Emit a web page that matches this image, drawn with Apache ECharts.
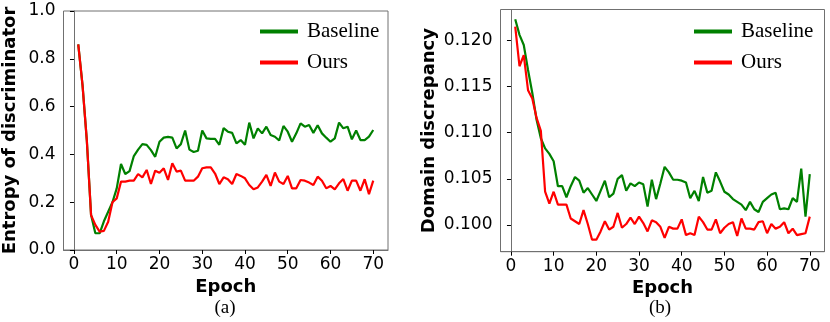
<!DOCTYPE html>
<html>
<head>
<meta charset="utf-8">
<script src="https://cdn.jsdelivr.net/npm/echarts@6/dist/echarts.min.js"></script>
<style>
  html, body { margin: 0; padding: 0; background: #fff; }
  #chart { width: 830px; height: 322px; }
</style>
</head>
<body>
<div id="chart"></div>
<script>
// epochs shared by both panels
const epochs = [1, 2, 3, 4, 5, 6, 7, 8, 9, 10, 11, 12, 13, 14, 15, 16, 17, 18, 19, 20,
  21, 22, 23, 24, 25, 26, 27, 28, 29, 30, 31, 32, 33, 34, 35, 36, 37, 38, 39, 40,
  41, 42, 43, 44, 45, 46, 47, 48, 49, 50, 51, 52, 53, 54, 55, 56, 57, 58, 59, 60,
  61, 62, 63, 64, 65, 66, 67, 68, 69, 70];
const epochTicks = [0, 10, 20, 30, 40, 50, 60, 70];

// (a) entropy of discriminator
const entropyBaseline = [0.86, 0.69, 0.46, 0.146, 0.07, 0.07, 0.12, 0.16, 0.20, 0.258,
  0.36, 0.318, 0.33, 0.393, 0.42, 0.443, 0.44, 0.418, 0.39, 0.453,
  0.47, 0.473, 0.47, 0.425, 0.443, 0.50, 0.42, 0.41, 0.415, 0.50,
  0.467, 0.465, 0.465, 0.44, 0.51, 0.495, 0.49, 0.446, 0.46, 0.44,
  0.533, 0.467, 0.509, 0.488, 0.516, 0.481, 0.474, 0.458, 0.519, 0.495,
  0.453, 0.488, 0.53, 0.516, 0.523, 0.49, 0.522, 0.488, 0.47, 0.453,
  0.467, 0.533, 0.509, 0.516, 0.463, 0.50, 0.46, 0.46, 0.474, 0.502];
const entropyOurs = [0.86, 0.69, 0.46, 0.146, 0.105, 0.077, 0.08, 0.118, 0.20, 0.216,
  0.286, 0.286, 0.29, 0.29, 0.318, 0.304, 0.335, 0.276, 0.332, 0.323,
  0.342, 0.293, 0.363, 0.328, 0.332, 0.29, 0.29, 0.29, 0.307, 0.342,
  0.346, 0.346, 0.32, 0.276, 0.304, 0.296, 0.276, 0.318, 0.31, 0.30,
  0.272, 0.254, 0.262, 0.286, 0.314, 0.268, 0.324, 0.286, 0.276, 0.31,
  0.258, 0.258, 0.293, 0.29, 0.282, 0.272, 0.307, 0.29, 0.258, 0.268,
  0.254, 0.279, 0.297, 0.248, 0.29, 0.29, 0.248, 0.296, 0.234, 0.29];
const entropyTicks = [0, 0.2, 0.4, 0.6, 0.8, 1.0];

// (b) domain discrepancy
const discBaseline = [0.1223, 0.1206, 0.1195, 0.1168, 0.1143, 0.1114, 0.1094, 0.1083, 0.1077, 0.1069,
  0.1042, 0.1042, 0.1030, 0.1042, 0.1052, 0.1048, 0.1035, 0.1040, 0.1033, 0.1026,
  0.1037, 0.1048, 0.1030, 0.1034, 0.1050, 0.1054, 0.1037, 0.1045, 0.1042, 0.1046,
  0.1044, 0.1020, 0.1049, 0.1028, 0.1045, 0.1063, 0.1057, 0.1049, 0.1049, 0.1048,
  0.1046, 0.1029, 0.1037, 0.1026, 0.1052, 0.1035, 0.1037, 0.1057, 0.1047, 0.1036,
  0.1033, 0.1028, 0.1025, 0.1022, 0.1016, 0.1025, 0.1017, 0.1014, 0.1025, 0.1029,
  0.1033, 0.1035, 0.1017, 0.1018, 0.1017, 0.1029, 0.1025, 0.1061, 0.1009, 0.1055];
const discOurs = [0.1215, 0.1172, 0.1184, 0.1146, 0.1137, 0.1116, 0.1102, 0.1036, 0.1023, 0.1036,
  0.1022, 0.1022, 0.1022, 0.1007, 0.1004, 0.1001, 0.1016, 0.1001, 0.0984, 0.0984,
  0.0993, 0.1004, 0.0995, 0.0998, 0.1013, 0.0997, 0.1001, 0.1008, 0.1001, 0.1009,
  0.1002, 0.0993, 0.1005, 0.1003, 0.0998, 0.0986, 0.0998, 0.0996, 0.0996, 0.1006,
  0.0989, 0.0991, 0.0989, 0.1009, 0.1003, 0.0995, 0.0995, 0.1006, 0.0991, 0.0997,
  0.1001, 0.1003, 0.0988, 0.1007, 0.0996, 0.0996, 0.0995, 0.1003, 0.1004, 0.0991,
  0.1001, 0.0996, 0.0998, 0.1003, 0.0991, 0.0996, 0.0989, 0.0990, 0.0991, 0.1009];
const discTicks = [0.100, 0.105, 0.110, 0.115, 0.120];

const GREEN = '#008000';
const RED = '#ff0000';
const SPINE = '#707070';
const SANS = 'DejaVu Sans';
const SERIF = 'Liberation Serif';

function pairs(ys) {
  return epochs.map((e, i) => [e, ys[i]]);
}

function xAxisFor(gridIndex) {
  return {
    type: 'value', gridIndex: gridIndex,
    min: -2.45, max: 73.45,
    name: 'Epoch', nameLocation: 'middle', nameGap: 28,
    nameTextStyle: { fontFamily: SANS, fontWeight: 'bold', fontSize: 18, color: '#000' },
    axisLine: { show: true, lineStyle: { color: SPINE, width: 1 } },
    axisTick: { show: true, length: 4, customValues: epochTicks, lineStyle: { color: '#000' } },
    axisLabel: { customValues: epochTicks, margin: 6, fontFamily: SANS, fontSize: 17, color: '#000' },
    splitLine: { show: false }
  };
}

function lineSeries(name, color, ys, idx) {
  return {
    name: name, type: 'line', xAxisIndex: idx, yAxisIndex: idx,
    data: pairs(ys), showSymbol: false, symbol: 'none',
    lineStyle: { color: color, width: 2.2 }, itemStyle: { color: color },
    animation: false
  };
}

function legendAt(left) {
  return {
    left: left, top: 21, padding: 0, orient: 'vertical',
    itemWidth: 38, itemHeight: 4, itemGap: 10, icon: 'rect',
    selectedMode: false,
    textStyle: { fontFamily: SERIF, fontSize: 21, color: '#000', padding: [0, 0, 0, 4] },
    data: ['Baseline', 'Ours']
  };
}

const chart = echarts.init(document.getElementById('chart'));
chart.setOption({
  backgroundColor: '#fff',
  animation: false,
  grid: [
    { left: 63.5, right: 442, top: 11, bottom: 72, show: true, borderColor: SPINE, borderWidth: 1 },
    { left: 500.5, right: 5.5, top: 9.5, bottom: 70.3, show: true, borderColor: SPINE, borderWidth: 1 }
  ],
  legend: [legendAt(260), legendAt(694)],
  xAxis: [xAxisFor(0), xAxisFor(1)],
  yAxis: [
    {
      type: 'value', gridIndex: 0, min: 0, max: 1,
      name: 'Entropy of discriminator', nameLocation: 'middle', nameGap: 44,
      nameTextStyle: { fontFamily: SANS, fontWeight: 'bold', fontSize: 18, color: '#000' },
      axisLine: { show: true, lineStyle: { color: SPINE, width: 1 } },
      axisTick: { show: true, length: 4, customValues: entropyTicks, lineStyle: { color: '#000' } },
      axisLabel: { customValues: entropyTicks, margin: 8, fontFamily: SANS, fontSize: 17, color: '#000',
        formatter: v => v.toFixed(1) },
      splitLine: { show: false }
    },
    {
      type: 'value', gridIndex: 1, min: 0.0971, max: 0.12335,
      name: 'Domain discrepancy', nameLocation: 'middle', nameGap: 62,
      nameTextStyle: { fontFamily: SANS, fontWeight: 'bold', fontSize: 18, color: '#000' },
      axisLine: { show: true, lineStyle: { color: SPINE, width: 1 } },
      axisTick: { show: true, length: 4, customValues: discTicks, lineStyle: { color: '#000' } },
      axisLabel: { customValues: discTicks, margin: 8, fontFamily: SANS, fontSize: 17, color: '#000',
        formatter: v => v.toFixed(3) },
      splitLine: { show: false }
    }
  ],
  graphic: [
    { type: 'text', x: 225, y: 308, style: { text: '(a)', font: '19px "Liberation Serif"', fill: '#000', align: 'center', verticalAlign: 'middle' } },
    { type: 'text', x: 660, y: 308, style: { text: '(b)', font: '19px "Liberation Serif"', fill: '#000', align: 'center', verticalAlign: 'middle' } }
  ],
  series: [
    lineSeries('Baseline', GREEN, entropyBaseline, 0),
    lineSeries('Ours', RED, entropyOurs, 0),
    lineSeries('Baseline', GREEN, discBaseline, 1),
    lineSeries('Ours', RED, discOurs, 1)
  ]
});
</script>
</body>
</html>
